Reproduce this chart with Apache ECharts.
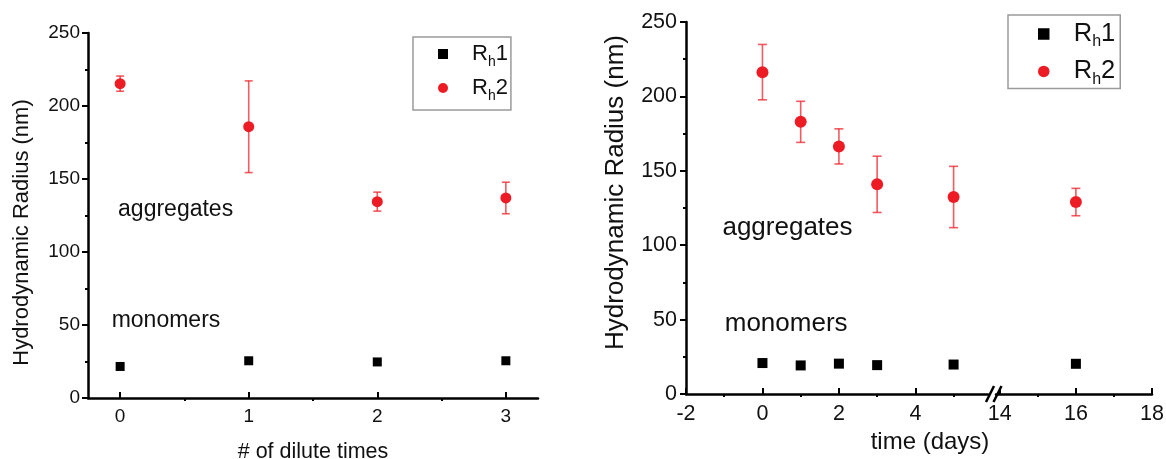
<!DOCTYPE html>
<html><head><meta charset="utf-8">
<script src="https://cdn.jsdelivr.net/npm/echarts@6/dist/echarts.min.js"></script>
<style>html,body{margin:0;padding:0;background:#fff}#c{width:1166px;height:459px}</style>
</head><body><div id="c"></div>
<script>
// ---- Left panel: dilution series ----
const diluteX = [0, 1, 2, 3];
const diluteRh1 = [21.6, 25.5, 24.7, 25.5];
const diluteRh2 = [215.3, 185.8, 134.5, 137];
const diluteRh2Err = [5.2, 31.4, 6.5, 10.8];
const diluteTicks = [0, 1, 2, 3];
const diluteMinorTicks = [0.5, 1.5, 2.5];
const diluteNotes = ['aggregates', 'monomers'];
const diluteNoteX = [-0.02, -0.07];
const diluteNoteY = [129, 53];

// ---- Right panel: time series ----
const dayX = [0, 1, 2, 3, 5, 16];
const dayRh1 = [20.8, 19.2, 20.4, 19.4, 19.8, 20.3];
const dayRh2 = [216.3, 182.9, 166.4, 140.9, 132.4, 129];
const dayRh2Err = [18.6, 13.8, 11.8, 18.9, 20.6, 9.2];
const dayTicksA = [-2, 0, 2, 4];
const dayMinorA = [-1, 1, 3, 5];
const dayTicksB = [14, 16, 18];
const dayMinorB = [15, 17];
const dayNotes = ['aggregates', 'monomers'];
const dayNoteX = [-1.06, -1.0];
const dayNoteY = [112, 47];

const yTickInterval = 50;
const seriesNames = ['Rh1', 'Rh2'];

const FONT = "'Liberation Sans', Arial, sans-serif";
const TXT = '#111';
const RED = '#ed1c24';
const ERR = 'rgba(237,28,36,0.72)';
const SQUARE = 'path://M0 0H10V10H0Z';

const segA = [-2, 5.9], segB = [13.9, 18];

function pairs(xs, ys) { return xs.map((x, i) => [x, ys[i]]); }
function triples(xs, ys, es) { return xs.map((x, i) => [x, ys[i], es[i]]); }
function inSeg(arr, seg) { return arr.filter(p => p[0] >= seg[0] && p[0] <= seg[1]); }

function errRender(capW) {
  return function (params, api) {
    const x = api.value(0), y = api.value(1), e = api.value(2);
    const t = api.coord([x, y + e]), b = api.coord([x, y - e]);
    const style = { stroke: ERR, lineWidth: 1.6 };
    return { type: 'group', children: [
      { type: 'line', shape: { x1: t[0], y1: t[1], x2: b[0], y2: b[1] }, style },
      { type: 'line', shape: { x1: t[0] - capW / 2, y1: t[1], x2: t[0] + capW / 2, y2: t[1] }, style },
      { type: 'line', shape: { x1: b[0] - capW / 2, y1: b[1], x2: b[0] + capW / 2, y2: b[1] }, style }
    ]};
  };
}

function baseX(gridIndex, min, max) {
  return { type: 'value', gridIndex, min, max, position: 'bottom', splitLine: { show: false },
    axisLine: { onZero: false, lineStyle: { color: '#000', width: 2.5 } } };
}
function majorX(gridIndex, min, max, ticks, fontSize, margin) {
  return Object.assign(baseX(gridIndex, min, max), {
    axisTick: { show: true, inside: true, length: 6, customValues: ticks, lineStyle: { color: '#000', width: 2 } },
    axisLabel: { customValues: ticks, margin, fontSize, color: TXT, fontFamily: FONT, showMinLabel: true, showMaxLabel: true, hideOverlap: false }
  });
}
function minorX(gridIndex, min, max, ticks) {
  return Object.assign(baseX(gridIndex, min, max), {
    axisLine: { show: false },
    axisLabel: { show: false },
    axisTick: { show: true, inside: false, length: 3, customValues: ticks, lineStyle: { color: '#000', width: 2 } }
  });
}
function yAx(gridIndex, fontSize, margin, show) {
  return { type: 'value', gridIndex, min: 0, max: 250, interval: yTickInterval, show, position: 'left',
    splitLine: { show: false },
    axisLine: { show: true, onZero: false, lineStyle: { color: '#000', width: 2.5 } },
    axisTick: { show: true, inside: false, length: 6, lineStyle: { color: '#000', width: 2 } },
    minorTick: { show: true, splitNumber: 2, length: 3, lineStyle: { color: '#000', width: 2 } },
    axisLabel: { margin, fontSize, color: TXT, fontFamily: FONT } };
}

function legendRich(main, sub, lh, sh) {
  return {
    m: { fontSize: main, lineHeight: lh, color: TXT, fontFamily: FONT },
    s: { fontSize: sub, lineHeight: sh, verticalAlign: 'bottom', color: TXT, fontFamily: FONT }
  };
}
const legendFmt = name => '{m|R}{s|h}{m|' + name.slice(2) + '}';

const xAxes = [
  Object.assign(majorX(0, -0.25, 3.25, diluteTicks, 19, 9), {
    name: '# of dilute times', nameLocation: 'middle', nameGap: 43,
    nameTextStyle: { fontSize: 21.5, color: TXT, fontFamily: FONT } }),
  minorX(0, -0.25, 3.25, diluteMinorTicks),
  Object.assign(majorX(1, segA[0], segA[1], dayTicksA, 21.5, 9), {
    name: 'time (days)', nameLocation: 'middle', nameGap: 36,
    nameTextStyle: { fontSize: 24, color: TXT, fontFamily: FONT, padding: [0, 0, 0, 186] } }),
  minorX(1, segA[0], segA[1], dayMinorA),
  majorX(2, segB[0], segB[1], dayTicksB, 21.5, 9),
  minorX(2, segB[0], segB[1], dayMinorB)
];
const yAxes = [
  Object.assign(yAx(0, 19, 8, true), { name: 'Hydrodynamic Radius (nm)', nameLocation: 'middle', nameGap: 55,
    nameTextStyle: { fontSize: 22, color: TXT, fontFamily: FONT, padding: [0, 34, 0, 0] } }),
  Object.assign(yAx(1, 21.5, 9, true), { name: 'Hydrodynamic Radius (nm)', nameLocation: 'middle', nameGap: 57,
    nameTextStyle: { fontSize: 26, color: TXT, fontFamily: FONT, padding: [0, 0, 0, 31] } }),
  yAx(2, 21.5, 9, false)
];

function notesSeries(xi, yi, names, xs, ys, fontSize) {
  return { type: 'scatter', xAxisIndex: xi, yAxisIndex: yi, silent: true, symbolSize: 1,
    itemStyle: { color: 'rgba(0,0,0,0)', opacity: 1 },
    label: { show: true, position: 'right', distance: 0, formatter: p => p.name, fontSize, color: TXT, fontFamily: FONT },
    data: names.map((n, i) => ({ name: n, value: [xs[i], ys[i]] })) };
}
function rh1(xi, yi, data, size) {
  return { name: seriesNames[0], type: 'scatter', xAxisIndex: xi, yAxisIndex: yi, symbol: 'rect', symbolSize: size,
    itemStyle: { color: '#000', opacity: 1 }, data, z: 5 };
}
function rh2(xi, yi, data, size) {
  return { name: seriesNames[1], type: 'scatter', xAxisIndex: xi, yAxisIndex: yi, symbol: 'circle', symbolSize: size,
    itemStyle: { color: RED, opacity: 1 }, data, z: 5 };
}
function errS(xi, yi, data, cap) {
  return { type: 'custom', xAxisIndex: xi, yAxisIndex: yi, renderItem: errRender(cap), encode: { x: 0, y: 1 }, data, z: 3, silent: true };
}

const dRh1 = pairs(dayX, dayRh1), dRh2 = pairs(dayX, dayRh2), dErr = triples(dayX, dayRh2, dayRh2Err);

const option = {
  animation: false,
  backgroundColor: '#fff',
  textStyle: { fontFamily: FONT },
  grid: [
    { left: 88, top: 33, width: 450, height: 365, outerBoundsMode: 'none', containLabel: false },
    { left: 686, top: 22, width: 302, height: 372, outerBoundsMode: 'none', containLabel: false },
    { left: 996, top: 22, width: 156, height: 372, outerBoundsMode: 'none', containLabel: false }
  ],
  xAxis: xAxes,
  yAxis: yAxes,
  legend: [
    { left: 413, top: 37, orient: 'vertical', padding: [6, 3, 7, 25], itemGap: 8, itemWidth: 48, itemHeight: 10,
      borderColor: '#9a9a9a', borderWidth: 1.5, selectedMode: false, symbolKeepAspect: true,
      data: [{ name: 'Rh1', icon: SQUARE }, { name: 'Rh2', icon: 'circle' }],
      formatter: legendFmt, textStyle: { rich: legendRich(22, 14, 30, 12) } },
    { left: 1008, top: 15, orient: 'vertical', padding: [6, 5, 1, 30], itemGap: 8.4, itemWidth: 50, itemHeight: 11.5,
      borderColor: '#9a9a9a', borderWidth: 1.5, selectedMode: false, symbolKeepAspect: true,
      data: [{ name: 'Rh1', icon: SQUARE }, { name: 'Rh2', icon: 'circle' }],
      formatter: legendFmt, textStyle: { rich: legendRich(25.5, 16, 32, 12) } }
  ],
  series: [
    errS(0, 0, triples(diluteX, diluteRh2, diluteRh2Err), 8),
    rh1(0, 0, pairs(diluteX, diluteRh1), 9),
    rh2(0, 0, pairs(diluteX, diluteRh2), 11),
    notesSeries(0, 0, diluteNotes, diluteNoteX, diluteNoteY, 23),

    errS(2, 1, inSeg(dErr, segA), 9),
    rh1(2, 1, inSeg(dRh1, segA), 10),
    rh2(2, 1, inSeg(dRh2, segA), 12),
    notesSeries(2, 1, dayNotes, dayNoteX, dayNoteY, 26),

    errS(4, 2, inSeg(dErr, segB), 9),
    rh1(4, 2, inSeg(dRh1, segB), 10),
    rh2(4, 2, inSeg(dRh2, segB), 12)
  ]
};

const chart = echarts.init(document.getElementById('c'), null, { renderer: 'canvas' });
chart.setOption(option);

// axis-break marks derived from the two segment axes
const pA = chart.convertToPixel({ xAxisIndex: 2, yAxisIndex: 1 }, [segA[1], 0]);
const pB = chart.convertToPixel({ xAxisIndex: 4, yAxisIndex: 2 }, [segB[0], 0]);
const brk = (cx, cy) => ({ type: 'line', shape: { x1: cx - 4, y1: cy + 8, x2: cx + 4, y2: cy - 8 },
  style: { stroke: '#000', lineWidth: 2.5 } });
chart.setOption({ graphic: [brk(pA[0] + 2, pA[1]), brk(pB[0] + 1.5, pB[1])] });
</script>
</body></html>
